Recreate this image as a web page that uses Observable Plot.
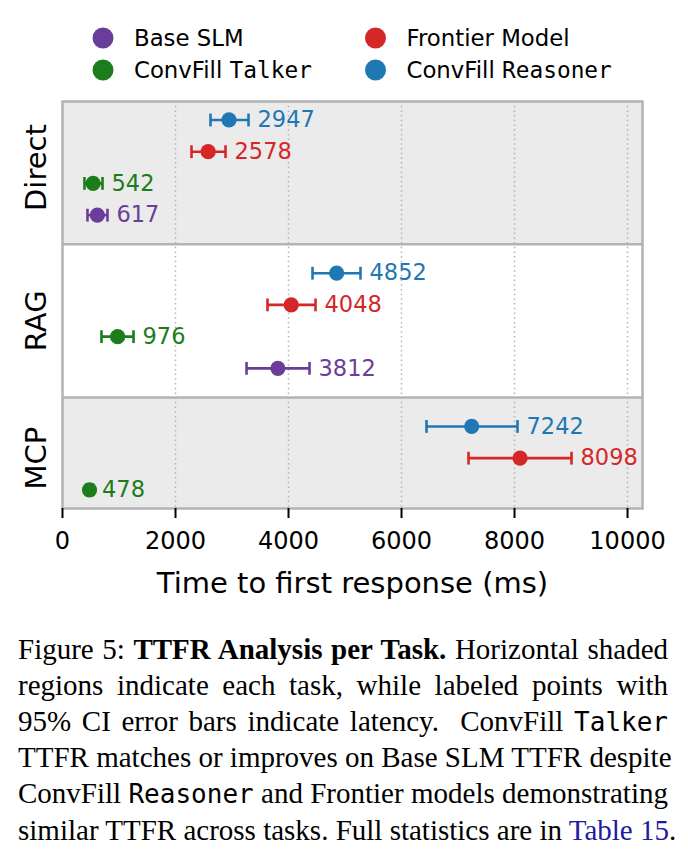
<!DOCTYPE html>
<html>
<head>
<meta charset="utf-8">
<script src="https://cdn.jsdelivr.net/npm/d3@7"></script>
<script src="https://cdn.jsdelivr.net/npm/@observablehq/plot@0.6"></script>
<style>
  body { margin: 0; background: #fff; width: 688px; height: 860px; overflow: hidden; }
  #legend { display: block; }
  #chart { height: 520px; }
  #caption {
    position: absolute; left: 18px; top: 632px; width: 650px;
    font-family: "Liberation Serif", "Times New Roman", serif;
    font-size: 29px; line-height: 35.8px; color: #000;
  }
  #caption div { text-align: justify; text-align-last: justify; white-space: nowrap; }
  #caption .tt { font-family: "DejaVu Sans Mono", monospace; font-size: 26px; }
  #caption .ref { color: #1c1c9c; }
</style>
</head>
<body>
<svg id="legend" width="688" height="88"></svg>
<div id="chart"></div>
<div id="caption">
  <div>Figure 5: <b>TTFR Analysis per Task.</b> Horizontal shaded</div>
  <div>regions indicate each task, while labeled points with</div>
  <div>95% CI error bars indicate latency.&nbsp; ConvFill <span class="tt">Talker</span></div>
  <div>TTFR matches or improves on Base SLM TTFR despite</div>
  <div>ConvFill <span class="tt">Reasoner</span> and Frontier models demonstrating</div>
  <div>similar TTFR across tasks. Full statistics are in <span class="ref">Table 15</span>.</div>
</div>
<script>
// Tasks (top to bottom) and models
const tasks = ["Direct", "RAG", "MCP"];
const models = ["Base SLM", "Frontier Model", "ConvFill Talker", "ConvFill Reasoner"];
const modelColors = ["#6a3d9a", "#d62728", "#1b7d1b", "#1f77b4"];

// Mean TTFR (ms) and 95% CI bounds, in the order of `models`
const directMean = [617, 2578, 542, 2947];
const directLow  = [442, 2283, 389, 2619];
const directHigh = [796, 2885, 708, 3292];

const ragMean = [3812, 4048, 976, 4852];
const ragLow  = [3257, 3628, 690, 4425];
const ragHigh = [4372, 4478, 1257, 5274];

const mcpMean = [null, 8098, 478, 7242];
const mcpLow  = [null, 7186, 420, 6442];
const mcpHigh = [null, 9009, 540, 8053];

const xTicks = [0, 2000, 4000, 6000, 8000, 10000];
const xLabel = "Time to first response (ms)";

// ---- layout: each task occupies one unit on y, models stacked inside it
const rowOrder = ["ConvFill Reasoner", "Frontier Model", "ConvFill Talker", "Base SLM"];
const rowStep = 0.207;
const rowOffset = m => (rowOrder.indexOf(m) - 1.5) * rowStep;
const yDomain = [-0.431, 2.225];
const xDomain = [0, 10265];

const series = [
  [directMean, directLow, directHigh],
  [ragMean, ragLow, ragHigh],
  [mcpMean, mcpLow, mcpHigh]
];
const colorOf = m => modelColors[models.indexOf(m)];

const rows = [];
tasks.forEach((task, i) => {
  const [mean, low, high] = series[i];
  models.forEach((model, j) => {
    if (mean[j] == null) return;
    rows.push({task, model, mean: mean[j], low: low[j], high: high[j], y: i + rowOffset(model), color: colorOf(model)});
  });
});

// Band extents clipped to the visible y range; label sits at the middle of the present rows
const bands = tasks.map((task, i) => ({
  task,
  y1: Math.max(i - 0.5, yDomain[0]),
  y2: Math.min(i + 0.5, yDomain[1]),
  shaded: i % 2 === 0
}));
const taskLabels = tasks.map(task => {
  const ys = rows.filter(r => r.task === task).map(r => r.y);
  return {task, y: d3.mean(ys)};
});

// Vertical cap used for the error-bar ends
const capSymbol = {
  draw(context, size) {
    const h = Math.sqrt(size / Math.PI);
    context.moveTo(0, -h);
    context.lineTo(0, h);
  }
};

const gridColor = "#b3b3b3";

const chart = Plot.plot({
  width: 688,
  height: 520,
  marginTop: 13,
  marginBottom: 100,
  marginLeft: 62,
  marginRight: 46,
  style: {fontFamily: "DejaVu Sans, sans-serif", background: "white", color: "black", overflow: "visible"},
  x: {domain: xDomain, axis: null},
  y: {domain: yDomain, reverse: true, axis: null},
  color: {type: "identity"},
  marks: [
    Plot.rect(bands.filter(b => b.shaded), {y1: "y1", y2: "y2", fill: "#ebebeb"}),
    Plot.ruleX(xTicks.filter(t => t > 0), {stroke: gridColor, strokeWidth: 1.5, strokeDasharray: "1.5,3.2"}),
    Plot.ruleY([0.5, 1.5], {stroke: gridColor, strokeWidth: 2.5}),
    Plot.frame({stroke: gridColor, strokeWidth: 2.5}),
    Plot.ruleY(rows, {y: "y", x1: "low", x2: "high", stroke: "color", strokeWidth: 2.6}),
    Plot.dot(rows, {x: "low", y: "y", symbol: capSymbol, r: 6.4, stroke: "color", strokeWidth: 2.6, fill: "none"}),
    Plot.dot(rows, {x: "high", y: "y", symbol: capSymbol, r: 6.4, stroke: "color", strokeWidth: 2.6, fill: "none"}),
    Plot.dot(rows, {x: "mean", y: "y", r: 7.6, fill: "color", stroke: "none"}),
    Plot.text(rows, {x: "high", y: "y", text: d => String(d.mean), dx: 9, textAnchor: "start", fill: "color", fontSize: 22.5}),
    Plot.text(taskLabels, {y: "y", text: "task", frameAnchor: "left", dx: -17, rotate: -90, lineAnchor: "bottom", textAnchor: "middle", fontSize: 29, fill: "black"}),
    Plot.axisX(xTicks, {tickSize: 10, tickPadding: 13, strokeWidth: 2, fontSize: 24, label: null, fill: "black", stroke: "black", tickFormat: d => String(d)}),
    Plot.text([xLabel], {text: d => d, frameAnchor: "bottom", dy: 84, lineAnchor: "bottom", fontSize: 29, fill: "black"})
  ]
});
document.getElementById("chart").appendChild(chart);

// ---- legend: two columns of coloured dots with model names
const legend = d3.select("#legend");
const colX = [103, 375.5];
const rowY = [38, 70];
models.forEach((m, i) => {
  const cx = colX[i % 2], cy = rowY[Math.floor(i / 2)];
  legend.append("circle").attr("cx", cx).attr("cy", cy).attr("r", 10.5).attr("fill", modelColors[i]);
  const t = legend.append("text")
    .attr("x", cx + 31).attr("y", cy + 8)
    .attr("font-family", "DejaVu Sans, sans-serif")
    .attr("font-size", 22.8).attr("fill", "black");
  if (m.startsWith("ConvFill ")) {
    t.append("tspan").text("ConvFill ");
    t.append("tspan").attr("font-family", "DejaVu Sans Mono, monospace").text(m.slice(9));
  } else {
    t.text(m);
  }
});
</script>
</body>
</html>
